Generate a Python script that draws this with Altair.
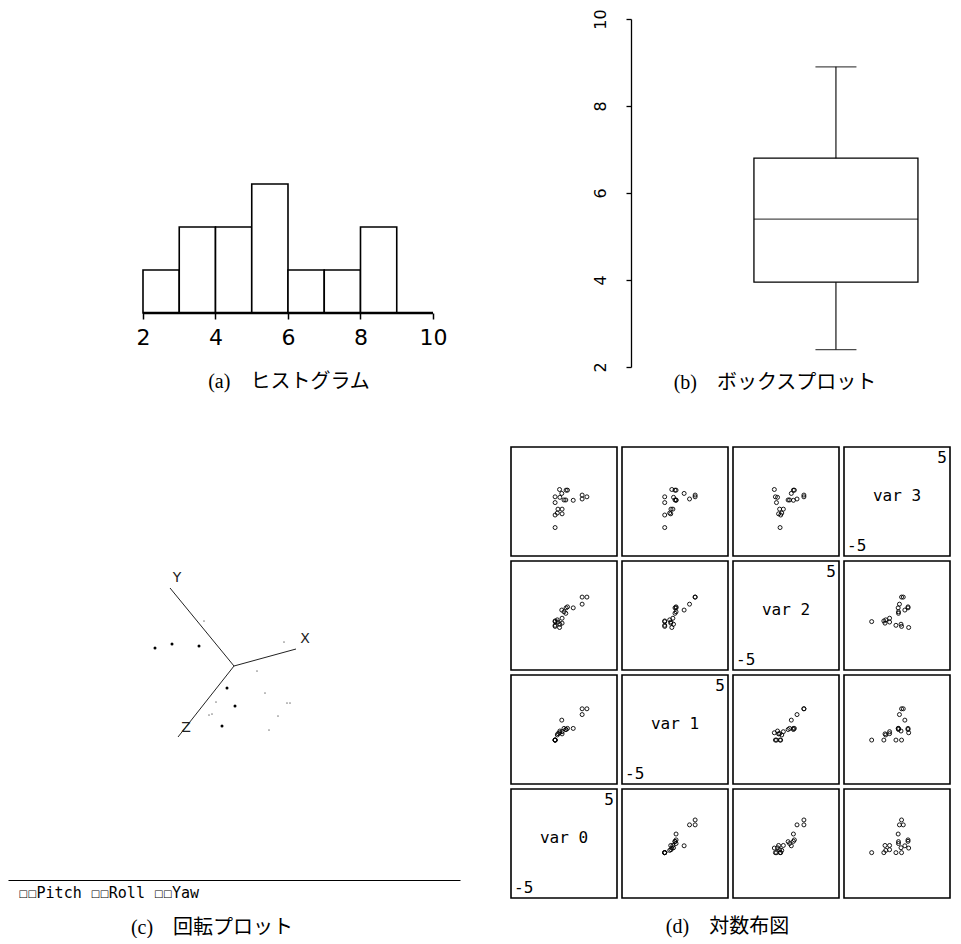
import altair as alt
import pandas as pd

# ---------------- (a) histogram ----------------
hist_bin_start = [2, 3, 4, 5, 6, 7, 8]
hist_bin_end = [3, 4, 5, 6, 7, 8, 9]
hist_counts = [1, 2, 2, 3, 1, 1, 2]
hist_ticks = [2, 4, 6, 8, 10]

# ---------------- (b) boxplot summary ----------------
box_group = ["data"]
box_min = [2.4]
box_q1 = [3.95]
box_median = [5.4]
box_q3 = [6.8]
box_max = [8.9]
box_ticks = [2, 4, 6, 8, 10]

# ---------------- (c) rotating plot (projected coordinates) ----------------
axis_names = ["X", "Y", "Z"]
axis_end_u = [0.62, -0.64, -0.56]
axis_end_v = [0.17, 0.78, -0.71]
axis_label_u = [0.71, -0.57, -0.48]
axis_label_v = [0.27, 0.88, -0.62]
bold_u = [-0.79, -0.62, -0.35, 0.01, -0.12, -0.07]
bold_v = [0.18, 0.22, 0.20, -0.40, -0.60, -0.22]
faint_u = [-0.30, 0.50, 0.23, 0.31, -0.18, -0.25, -0.22, 0.53, 0.56, 0.44, 0.35]
faint_v = [0.45, 0.24, -0.05, -0.27, -0.36, -0.49, -0.48, -0.37, -0.37, -0.50, -0.64]
controls = "☐☐Pitch ☐☐Roll  ☐☐Yaw"

# ---------------- (d) scatterplot matrix ----------------
var0 = [-0.84, -0.84, -0.84, -0.84, -0.42, -0.39, -0.57, -0.63, -0.18, -0.18,
        -0.21, 0.20, 0.33, 0.00, 0.17, 0.87, 1.71, 1.71, 2.16]
var1 = [-0.97, -0.97, -0.97, -0.97, -0.30, -0.14, -0.38, -0.50, -0.20, -0.40,
        0.86, 0.00, 0.10, 0.10, 0.00, 0.10, 1.90, 1.37, 1.90]
var2 = [-1.00, -0.90, -0.50, -0.56, -1.10, -0.80, -0.60, -0.40, -0.25, -0.70,
        0.50, 0.70, 0.79, 0.34, 0.20, 0.70, 1.69, 1.04, 1.69]
var3 = [0.43, -0.10, -1.24, -2.39, 1.10, 0.38, -0.70, -1.06, -0.70, -1.13,
        0.74, 1.04, 1.04, 0.14, 0.14, 0.11, 0.59, 0.23, 0.43]
var_names = ["var 0", "var 1", "var 2", "var 3"]
cell_range = [-5, 5]

captions = ["(a)\u3000ヒストグラム", "(b)\u3000ボックスプロット",
            "(c)\u3000回転プロット", "(d)\u3000対数布図"]

CAP_FONT = "Liberation Serif, Noto Sans CJK JP"
SANS = "DejaVu Sans"
MONO = "DejaVu Sans Mono"


def caption(text, dx, offset):
    return alt.TitleParams(text=text, orient="bottom", anchor="middle", font=CAP_FONT,
                           fontSize=20, fontWeight="normal", color="black", dx=dx, offset=offset)


# ---- (a)
hist_df = pd.DataFrame({"start": hist_bin_start, "end": hist_bin_end, "count": hist_counts,
                        "zero": [0] * len(hist_counts)})
hx = alt.Scale(domain=[-1.724, 10.745], nice=False, zero=False)
hy = alt.Scale(domain=[0, 6.84], nice=False, zero=False)
hist_bars = alt.Chart(hist_df).mark_bar(fill="white", stroke="black", strokeWidth=1.6).encode(
    x=alt.X("start:Q", scale=hx,
            axis=alt.Axis(values=hist_ticks, domain=False, grid=False, tickSize=6, tickWidth=1.5,
                          tickColor="black", labelFontSize=22, labelFont=SANS, labelColor="black",
                          labelPadding=8, title=None)),
    x2="end:Q",
    y=alt.Y("count:Q", scale=hy, axis=None),
    y2="zero:Q",
)
base_df = pd.DataFrame({"a": [hist_ticks[0]], "b": [hist_ticks[-1]], "y": [0]})
hist_base = alt.Chart(base_df).mark_rule(color="black", strokeWidth=2.6).encode(
    x=alt.X("a:Q", scale=hx), x2="b:Q", y=alt.Y("y:Q", scale=hy))
hist = alt.layer(hist_bars, hist_base).properties(
    width=452, height=294, title=caption(captions[0], 55, 24))

# ---- (b)
box_df = pd.DataFrame({"g": box_group, "lo": box_min, "q1": box_q1, "med": box_median,
                       "q3": box_q3, "hi": box_max})
bx = alt.X("g:N", scale=alt.Scale(paddingOuter=0.4146, paddingInner=0, align=0.904), axis=None)
by_scale = alt.Scale(domain=[box_ticks[0], box_ticks[-1]], nice=False, zero=False)
by_axis = alt.Axis(values=box_ticks, labelAngle=270, grid=False, domainColor="black",
                   domainWidth=1.3, tickColor="black", tickWidth=1.3, tickSize=5,
                   labelFontSize=16, labelFont=SANS, labelColor="black", labelPadding=18,
                   title=None)
bb = alt.Chart(box_df)
box_rect = bb.mark_bar(fill="white", stroke="black", strokeWidth=1.3).encode(
    x=bx, y=alt.Y("q1:Q", scale=by_scale, axis=by_axis), y2="q3:Q")
wl = bb.mark_rule(color="black", strokeWidth=1.1).encode(x=bx, y=alt.Y("lo:Q", scale=by_scale), y2="q1:Q")
wh = bb.mark_rule(color="black", strokeWidth=1.1).encode(x=bx, y=alt.Y("q3:Q", scale=by_scale), y2="hi:Q")
cap_lo = bb.mark_tick(color="black", size=41, thickness=1.2).encode(x=bx, y=alt.Y("lo:Q", scale=by_scale))
cap_hi = bb.mark_tick(color="black", size=41, thickness=1.2).encode(x=bx, y=alt.Y("hi:Q", scale=by_scale))
med = bb.mark_tick(color="black", size=164, thickness=1.3).encode(x=bx, y=alt.Y("med:Q", scale=by_scale))
box = alt.layer(box_rect, wl, wh, cap_lo, cap_hi, med).properties(
    width=300, height=348, title=caption(captions[1], -6, 1))

# ---- (c)
ru = alt.Scale(domain=[-2.26, 2.26], nice=False, zero=False)
rv = alt.Scale(domain=[-2.14, 2.19], nice=False, zero=False)
rot_axes_df = pd.DataFrame({"name": axis_names, "u0": [0, 0, 0], "v0": [0, 0, 0],
                            "u": axis_end_u, "v": axis_end_v,
                            "lu": axis_label_u, "lv": axis_label_v})
rot_x_axis = alt.Axis(domain=True, domainColor="black", domainWidth=1.2, ticks=False, labels=False,
                      grid=False, title=controls, titleFont=MONO + ", " + SANS, titleFontSize=15,
                      titleFontWeight="normal", titleColor="black", titleAnchor="start",
                      titleAlign="left", titlePadding=5, titleX=10)
rot_lines = alt.Chart(rot_axes_df).mark_rule(color="#222", strokeWidth=1).encode(
    x=alt.X("u0:Q", scale=ru, axis=rot_x_axis), y=alt.Y("v0:Q", scale=rv, axis=None),
    x2="u:Q", y2="v:Q")
rot_labels = alt.Chart(rot_axes_df).mark_text(font=SANS, fontSize=14, color="#222").encode(
    x=alt.X("lu:Q", scale=ru), y=alt.Y("lv:Q", scale=rv), text="name:N")
bold_df = pd.DataFrame({"u": bold_u, "v": bold_v})
faint_df = pd.DataFrame({"u": faint_u, "v": faint_v})
rot_bold = alt.Chart(bold_df).mark_circle(color="black", size=9, opacity=1).encode(
    x=alt.X("u:Q", scale=ru), y=alt.Y("v:Q", scale=rv))
rot_faint = alt.Chart(faint_df).mark_circle(color="#888", size=3, opacity=1).encode(
    x=alt.X("u:Q", scale=ru), y=alt.Y("v:Q", scale=rv))
rot = alt.layer(rot_lines, rot_labels, rot_bold, rot_faint).properties(
    width=452, height=433, title=caption(captions[2], -22, 18))

# ---- (d)
vals = [var0, var1, var2, var3]
cs = alt.Scale(domain=cell_range, nice=False, zero=False)
cell_view = alt.ViewBackground(stroke="black", strokeWidth=1.6)
CW = 106
CH = 109


def cell(r, c):
    yi = 3 - r
    xi = c
    if xi == yi:
        name_df = pd.DataFrame({"x": [0], "y": [0], "t": [var_names[xi]]})
        hi_df = pd.DataFrame({"x": [cell_range[1]], "y": [cell_range[1]], "t": [str(cell_range[1])]})
        lo_df = pd.DataFrame({"x": [cell_range[0]], "y": [cell_range[0]], "t": [str(cell_range[0])]})
        t1 = alt.Chart(name_df).mark_text(font=MONO, fontSize=16, color="black", dy=-6).encode(
            x=alt.X("x:Q", scale=cs, axis=None), y=alt.Y("y:Q", scale=cs, axis=None), text="t:N")
        t2 = alt.Chart(hi_df).mark_text(font=MONO, fontSize=16, color="black", align="right",
                                        baseline="top", dx=-3, dy=3).encode(
            x=alt.X("x:Q", scale=cs, axis=None), y=alt.Y("y:Q", scale=cs, axis=None), text="t:N")
        t3 = alt.Chart(lo_df).mark_text(font=MONO, fontSize=16, color="black", align="left",
                                        baseline="bottom", dx=3, dy=-2).encode(
            x=alt.X("x:Q", scale=cs, axis=None), y=alt.Y("y:Q", scale=cs, axis=None), text="t:N")
        ch = alt.layer(t1, t2, t3)
    else:
        d = pd.DataFrame({"x": vals[xi], "y": vals[yi]})
        ch = alt.Chart(d).mark_point(shape="circle", filled=False, size=16, color="black",
                                     strokeWidth=0.9, opacity=1).encode(
            x=alt.X("x:Q", scale=cs, axis=None), y=alt.Y("y:Q", scale=cs, axis=None))
    return ch.properties(width=CW, height=CH, view=cell_view)


rows = [alt.hconcat(*[cell(r, c) for c in range(4)], spacing=3) for r in range(4)]
matrix = alt.vconcat(*rows, spacing=3).properties(title=caption(captions[3], -3, 18))

top_row = alt.hconcat(hist, box, spacing=132)
bottom_row = alt.hconcat(rot, matrix, spacing=50)

chart = alt.vconcat(top_row, bottom_row, spacing=52).properties(
    padding={"left": 0, "top": 0, "right": 0, "bottom": 0},
    background="white",
).configure_view(stroke=None)

chart.save("out.html", embed_options={"renderer": "svg", "actions": False})
